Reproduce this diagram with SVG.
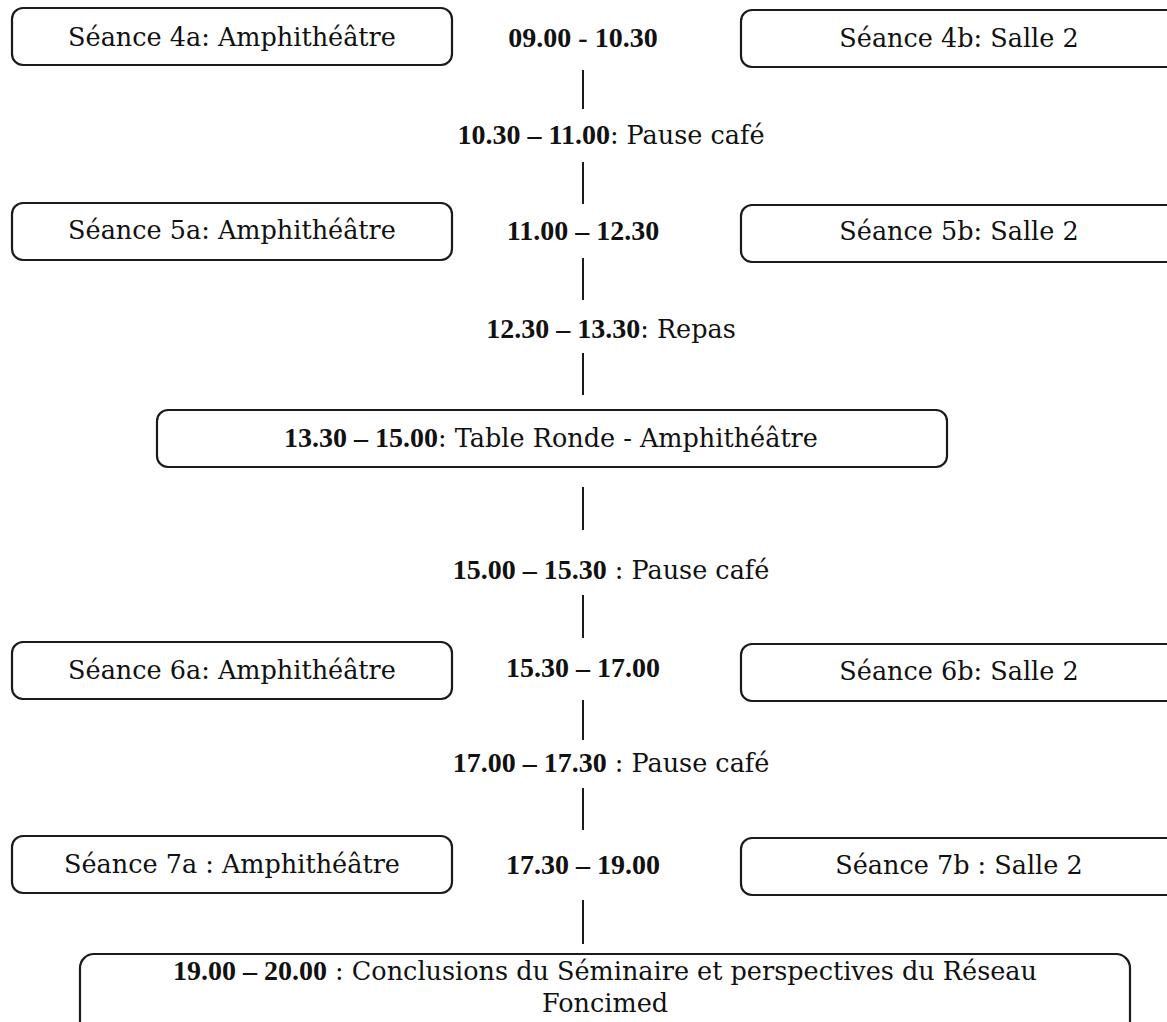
<svg xmlns="http://www.w3.org/2000/svg" width="1167" height="1022" viewBox="0 0 1167 1022">
<style>
.box{fill:#fff;stroke:#1a1a1a;stroke-width:2.2}
.t{font-family:"DejaVu Serif","Liberation Serif",serif;font-size:25.5px;fill:#111;text-anchor:middle}
.b{font-family:"Liberation Serif","DejaVu Serif",serif;font-weight:bold;font-size:28px}
.conn line{stroke:#1a1a1a;stroke-width:2}
</style>
<rect width="1167" height="1022" fill="#fff"/>
<g class="conn">
<line x1="583" y1="70" x2="583" y2="109"/>
<line x1="583" y1="162" x2="583" y2="204"/>
<line x1="583" y1="258" x2="583" y2="300"/>
<line x1="583" y1="353" x2="583" y2="395"/>
<line x1="583" y1="487" x2="583" y2="530"/>
<line x1="583" y1="595" x2="583" y2="638"/>
<line x1="583" y1="700" x2="583" y2="740"/>
<line x1="583" y1="788" x2="583" y2="830"/>
<line x1="583" y1="900" x2="583" y2="944"/>
</g>
<g id="s4a"><rect class="box" x="12" y="8" width="440" height="57" rx="11"/><text class="t" x="232" y="46">Séance 4a: Amphithéâtre</text></g>
<g id="t4"><text class="t b" x="583" y="47">09.00 - 10.30</text></g>
<g id="s4b"><rect class="box" x="741" y="10" width="440" height="57" rx="11"/><text class="t" x="959" y="47">Séance 4b: Salle 2</text></g>
<g id="p1"><text class="t" x="611" y="144"><tspan class="b">10.30 – 11.00</tspan>: Pause café</text></g>
<g id="s5a"><rect class="box" x="12" y="203" width="440" height="57" rx="11"/><text class="t" x="232" y="239">Séance 5a: Amphithéâtre</text></g>
<g id="t5"><text class="t b" x="583" y="240">11.00 – 12.30</text></g>
<g id="s5b"><rect class="box" x="741" y="205" width="440" height="57" rx="11"/><text class="t" x="959" y="240">Séance 5b: Salle 2</text></g>
<g id="p2"><text class="t" x="611" y="338"><tspan class="b">12.30 – 13.30</tspan>: Repas</text></g>
<g id="tr"><rect class="box" x="157" y="410" width="790" height="57" rx="11"/><text class="t" x="551" y="447"><tspan class="b">13.30 – 15.00</tspan>: Table Ronde - Amphithéâtre</text></g>
<g id="p3"><text class="t" x="611" y="579"><tspan class="b">15.00 – 15.30</tspan> : Pause café</text></g>
<g id="s6a"><rect class="box" x="12" y="642" width="440" height="57" rx="11"/><text class="t" x="232" y="679">Séance 6a: Amphithéâtre</text></g>
<g id="t6"><text class="t b" x="583" y="677">15.30 – 17.00</text></g>
<g id="s6b"><rect class="box" x="741" y="644" width="440" height="57" rx="11"/><text class="t" x="959" y="680">Séance 6b: Salle 2</text></g>
<g id="p4"><text class="t" x="611" y="772"><tspan class="b">17.00 – 17.30</tspan> : Pause café</text></g>
<g id="s7a"><rect class="box" x="12" y="836" width="440" height="57" rx="11"/><text class="t" x="232" y="873">Séance 7a : Amphithéâtre</text></g>
<g id="t7"><text class="t b" x="583" y="874">17.30 – 19.00</text></g>
<g id="s7b"><rect class="box" x="741" y="838" width="440" height="57" rx="11"/><text class="t" x="959" y="874">Séance 7b : Salle 2</text></g>
<g id="fin"><rect class="box" x="80" y="954" width="1050" height="100" rx="14"/><text class="t" x="605" y="980"><tspan class="b">19.00 – 20.00</tspan> : Conclusions du Séminaire et perspectives du Réseau</text><text class="t" x="605" y="1012">Foncimed</text></g>
</svg>
